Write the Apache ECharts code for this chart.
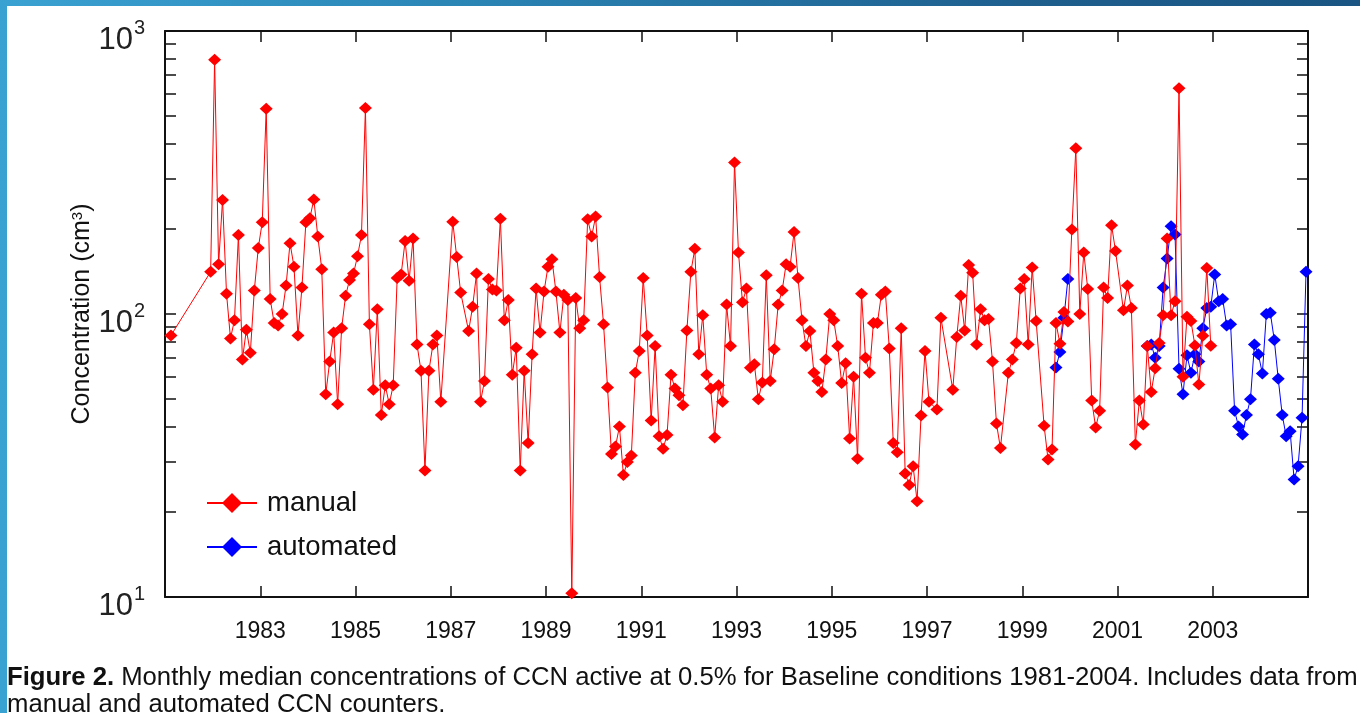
<!DOCTYPE html>
<html><head><meta charset="utf-8">
<script src="https://cdn.jsdelivr.net/npm/echarts@6/dist/echarts.min.js"></script>
<style>
html,body{margin:0;padding:0;width:1360px;height:713px;overflow:hidden;background:#fff;}
#bg{position:absolute;left:0;top:0;width:1360px;height:713px;background:linear-gradient(90deg,#3aa2d2 0%,#2a84b4 35%,#1e5f8e 75%,#1a5583 100%);}
#panel{position:absolute;left:7px;top:6px;right:0;bottom:0;background:#fff;}
#chart{position:absolute;left:0;top:0;width:1360px;height:713px;}
</style></head><body>
<div id="bg"></div><div id="panel"></div><div id="chart"></div>
<script>
// ---- data (monthly medians, Jan..Dec per row) ----
const manualStartYear = 1981;
const manualValues = [
  null, 84, null, null, null, null, null, null, null, null, null, 141,   // 1981
  791, 150, 253, 118, 82, 95, 190, 69, 88, 73, 121, 171,                  // 1982
  211, 531, 113, 93, 91, 100, 126, 178, 147, 84, 124, 211,                // 1983
  218, 254, 188, 144, 52, 68, 86, 48, 89, 116, 132, 139,                  // 1984
  160, 190, 534, 92, 54, 104, 44, 56, 48, 56, 134, 138,                   // 1985
  181, 131, 185, 78, 63, 28, 63, 78, 84, 49, null, null,                  // 1986
  212, 159, 119, null, 87, 106, 139, 49, 58, 133, 122, 121,               // 1987
  217, 95, 112, 61, 76, 28, 63, 35, 72, 123, 86, 120,                     // 1988
  147, 156, 120, 86, 117, 112, 10.3, 114, 89, 95, 216, 188,               // 1989
  221, 135, 92, 55, 32, 34, 40, 27, 30, 31.6, 62, 74,                     // 1990
  134, 84, 42, 77, 37, 33.4, 37.4, 61, 54.5, 51.6, 47.6, 87.5,            // 1991
  141, 170, 72, 99, 61, 54.5, 36.6, 56, 49, 108, 77, 343,                 // 1992
  165, 110, 123, 64.6, 66.5, 50, 57.3, 137, 58, 75, 108, 121,             // 1993
  150, 147, 195, 134, 95, 77, 87, 62, 58, 53, 69, 100,                    // 1994
  95, 77, 57, 67, 36.3, 60, 30.8, 118, 70, 62, 93, 93,                    // 1995
  117, 120, 75.5, 35, 32.5, 89, 27.3, 24.9, 29, 21.8, 43.8, 74,           // 1996
  49, null, 46, 97, null, null, 54, 83, 116, 87.5, 149, 140,              // 1997
  78, 104, 95, 96, 68, 41, 33.6, null, 62, 69, 79, 123,                   // 1998
  133, 78, 146, 94.5, null, 40.3, 30.6, 33.2, 93, 78.5, 101.6, 94,        // 1999
  199, 385, 100, 165, 122.5, 49.5, 39.7, 45.5, 124, 114, 206, 167,        // 2000
  null, 103, 126, 105, 34.6, 49.5, 40.7, 77, 53, 64.3, 79, 99,            // 2001
  185, 99, 111, 628, 60, 97.8, 94.5, 77.4, 56.3, 83.7, 145.5, 77.2        // 2002
];
const automatedStartYear = 1999;
const automatedValues = [
  null, null, null, null, null, null, null, null, 64.7, 73.4, 97, 133,    // 1999
  null, null, null, null, null, null, null, null, null, null, null, null, // 2000
  null, null, null, null, null, null, null, 77, 78, 70, 77, 124,          // 2001
  157, 204, 191, 64, 52, 71.5, 62, 72, 68, 89, 105, 106,                  // 2002
  138, 111, 113, 91, 92, 45.5, 40, 37.5, 44, 50, 78, 72,                  // 2003
  61.6, 100, 101, 81, 59, 44, 37, 38.5, 26, 29, 43, 141                   // 2004
];
const seriesNames = ['manual', 'automated'];
const xTickYears = [1981, 1983, 1985, 1987, 1989, 1991, 1993, 1995, 1997, 1999, 2001, 2003, 2005];
const xLabelYears = [1983, 1985, 1987, 1989, 1991, 1993, 1995, 1997, 1999, 2001, 2003];
const yTickValues = [10, 20, 30, 40, 50, 60, 70, 80, 90, 100, 200, 300, 400, 500, 600, 700, 800, 900, 1000];
const yLabelValues = [10, 100, 1000];
const captionBold = 'Figure 2.';
const captionLine1 = ' Monthly median concentrations of CCN active at 0.5% for Baseline conditions 1981-2004. Includes data from';
const captionLine2 = 'manual and automated CCN counters.';
const yTitle = 'Concentration (cm';

// ---- build series data: month centre as decimal year ----
function toPoints(startYear, values, keepGaps) {
  const out = [];
  values.forEach((v, i) => {
    const x = startYear + (i + 0.5) / 12;
    if (v == null) { if (keepGaps) out.push([x, '-']); }
    else out.push([x, v]);
  });
  return out;
}
const manualData = toPoints(manualStartYear, manualValues, false);
const automatedData = toPoints(automatedStartYear, automatedValues, true);

const FONT = "'Liberation Sans', Arial, Helvetica, sans-serif";
const AX = '#111';

const chart = echarts.init(document.getElementById('chart'), null, {renderer: 'canvas'});
const xCommon = {
  type: 'value', min: 1981, max: 2005,
  axisLine: {show: true, onZero: false, lineStyle: {color: AX, width: 2}},
  axisTick: {show: true, inside: true, length: 11, customValues: xTickYears, lineStyle: {color: AX, width: 1.5}},
  splitLine: {show: false}
};
const yCommon = {
  type: 'log', logBase: 10, min: 10, max: 1000,
  axisLine: {show: true, onZero: false, lineStyle: {color: AX, width: 2}},
  axisTick: {show: true, inside: true, length: 11, customValues: yTickValues, lineStyle: {color: AX, width: 1.5}},
  splitLine: {show: false},
  minorTick: {show: false}
};
chart.setOption({
  animation: false,
  backgroundColor: 'transparent',
  textStyle: {fontFamily: FONT},
  grid: {left: 165, right: 52, top: 31, bottom: 116},
  xAxis: [
    Object.assign({}, xCommon, {
      position: 'bottom',
      axisLabel: {show: true, customValues: xLabelYears, margin: 23, fontSize: 23, color: '#111', fontFamily: FONT,
        formatter: v => String(Math.round(v))}
    }),
    Object.assign({}, xCommon, {position: 'top', axisLabel: {show: false}})
  ],
  yAxis: [
    Object.assign({}, yCommon, {
      position: 'left',
      name: '{t|' + yTitle + '}{s|3}{t|)}',
      nameLocation: 'middle', nameGap: 70, nameRotate: 90, nameMoveOverlap: false,
      nameTextStyle: {rich: {t: {fontSize: 25, color: '#111', fontFamily: FONT}, s: {fontSize: 15, color: '#111', fontFamily: FONT, verticalAlign: 'top', lineHeight: 25}}},
      axisLabel: {show: true, customValues: yLabelValues, margin: 20, color: '#111',
        formatter: v => '{b|10}{s|' + Math.round(Math.log10(v)) + '}',
        rich: {
          b: {fontSize: 31, color: '#222', fontFamily: FONT, verticalAlign: 'bottom', lineHeight: 50},
          s: {fontSize: 20, color: '#222', fontFamily: FONT, verticalAlign: 'top', lineHeight: 30, padding: [12, 0, 0, 1]}
        }}
    }),
    Object.assign({}, yCommon, {position: 'right', axisLabel: {show: false}})
  ],
  legend: {
    orient: 'vertical', left: 201, top: 484,
    itemWidth: 50, itemHeight: 25, itemGap: 16,
    textStyle: {fontSize: 27.5, color: '#111', fontFamily: FONT, lineHeight: 25, padding: [0, 0, 0, 5]},
    data: seriesNames
  },
  series: [
    {
      name: seriesNames[0], type: 'line', data: manualData,
      connectNulls: true, symbol: 'diamond', symbolSize: [13, 12],
      lineStyle: {color: '#ff0000', width: 1},
      itemStyle: {color: '#ff0000'}, z: 3
    },
    {
      name: seriesNames[1], type: 'line', data: automatedData,
      connectNulls: false, symbol: 'diamond', symbolSize: [13, 12],
      lineStyle: {color: '#0000ff', width: 1},
      itemStyle: {color: '#0000ff'}, z: 2
    }
  ],
  graphic: [
    {type: 'text', left: 7, top: 665, style: {
      text: '{b|' + captionBold + '}' + captionLine1,
      fontSize: 25.7, fill: '#111', fontFamily: FONT,
      rich: {b: {fontWeight: 'bold', fontSize: 25.7, fill: '#111', fontFamily: FONT}}}},
    {type: 'text', left: 7, top: 692, style: {
      text: captionLine2, fontSize: 25.7, fill: '#111', fontFamily: FONT}}
  ]
});
</script></body></html>
